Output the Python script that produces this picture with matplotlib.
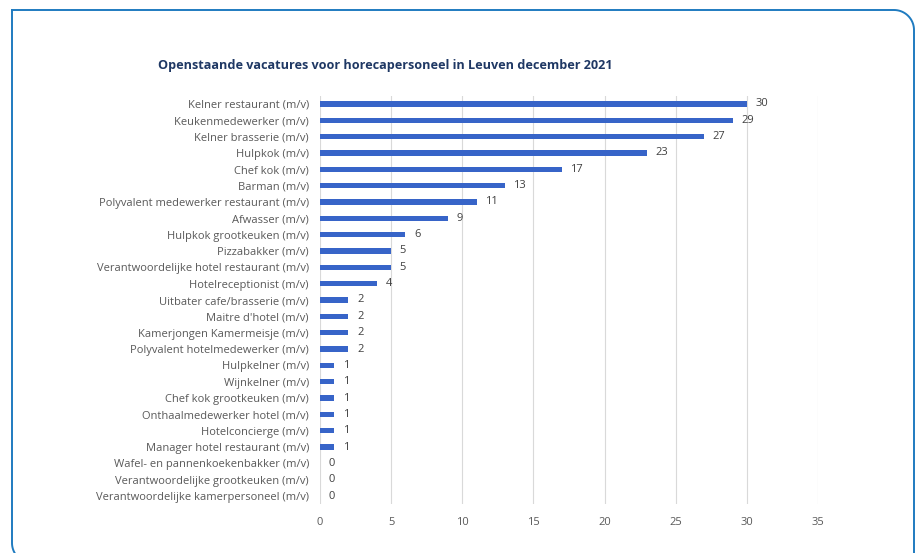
import numpy as np
import matplotlib.pyplot as plt

# data
jobs = [
    'Kelner restaurant (m/v)', 'Keukenmedewerker (m/v)', 'Kelner brasserie (m/v)',
    'Hulpkok (m/v)', 'Chef kok (m/v)', 'Barman (m/v)',
    'Polyvalent medewerker restaurant (m/v)', 'Afwasser (m/v)',
    'Hulpkok grootkeuken (m/v)', 'Pizzabakker (m/v)',
    'Verantwoordelijke hotel restaurant (m/v)', 'Hotelreceptionist (m/v)',
    'Uitbater cafe/brasserie (m/v)', "Maitre d'hotel (m/v)",
    'Kamerjongen Kamermeisje (m/v)', 'Polyvalent hotelmedewerker (m/v)',
    'Hulpkelner (m/v)', 'Wijnkelner (m/v)', 'Chef kok grootkeuken (m/v)',
    'Onthaalmedewerker hotel (m/v)', 'Hotelconcierge (m/v)',
    'Manager hotel restaurant (m/v)', 'Wafel- en pannenkoekenbakker (m/v)',
    'Verantwoordelijke grootkeuken (m/v)', 'Verantwoordelijke kamerpersoneel (m/v)',
]
vacatures = [30, 29, 27, 23, 17, 13, 11, 9, 6, 5, 5, 4, 2, 2, 2, 2,
             1, 1, 1, 1, 1, 1, 0, 0, 0]
xticks = [0, 5, 10, 15, 20, 25, 30, 35]

plt.rcParams['font.family'] = ['Open Sans', 'DejaVu Sans']

W, H = 919, 553
fig = plt.figure(figsize=(W / 100, H / 100), dpi=100)
fig.patch.set_facecolor('white')

# blue frame in pixel coords: square top-left, rounded top-right / bottom-left
r = 20
t = np.linspace(0, np.pi / 2, 20)
fx = [12, 914 - r] + list(914 - r + r * np.sin(t)) + [914, 914, 12 + r]
fy = [10, 10] + list(10 + r - r * np.cos(t)) + [10 + r, 563, 563]
fx += list(12 + r - r * np.sin(t)) + [12, 12]
fy += list(563 - r + r * np.cos(t)) + [563 - r, 10]
fig.add_artist(plt.Line2D(np.array(fx) / W, 1 - np.array(fy) / H,
                          transform=fig.transFigure, color='#1F7BC0',
                          linewidth=1.4, solid_joinstyle='round'))

ax = fig.add_axes([320 / W, 1 - 504.2 / H, 498 / W, 408.4 / H])
ax.set_facecolor('none')

pos = range(len(jobs))
ax.barh(pos, vacatures, height=0.33, color='#3764C8', zorder=3)
for i, v in zip(pos, vacatures):
    ax.text(v + 0.6, i, str(v), va='center', ha='left', fontsize=8,
            color='#404040')

ax.set_xlim(0, 35)
ax.set_ylim(len(jobs) - 0.5, -0.5)
ax.set_xticks(xticks)
ax.set_yticks(list(pos))
ax.set_yticklabels(jobs)
ax.tick_params(axis='both', length=0, labelsize=8, colors='#595959')
ax.tick_params(axis='y', pad=8)
ax.tick_params(axis='x', pad=9)
ax.grid(axis='x', color='#D9D9D9', linewidth=0.8, zorder=0)
for s in ax.spines.values():
    s.set_visible(False)

fig.text(385 / W, 1 - 66 / H,
         'Openstaande vacatures voor horecapersoneel in Leuven december 2021',
         ha='center', va='center', fontsize=9.1, fontweight='bold',
         color='#1F3864')

fig.savefig('out.png', dpi=100, facecolor='white')
